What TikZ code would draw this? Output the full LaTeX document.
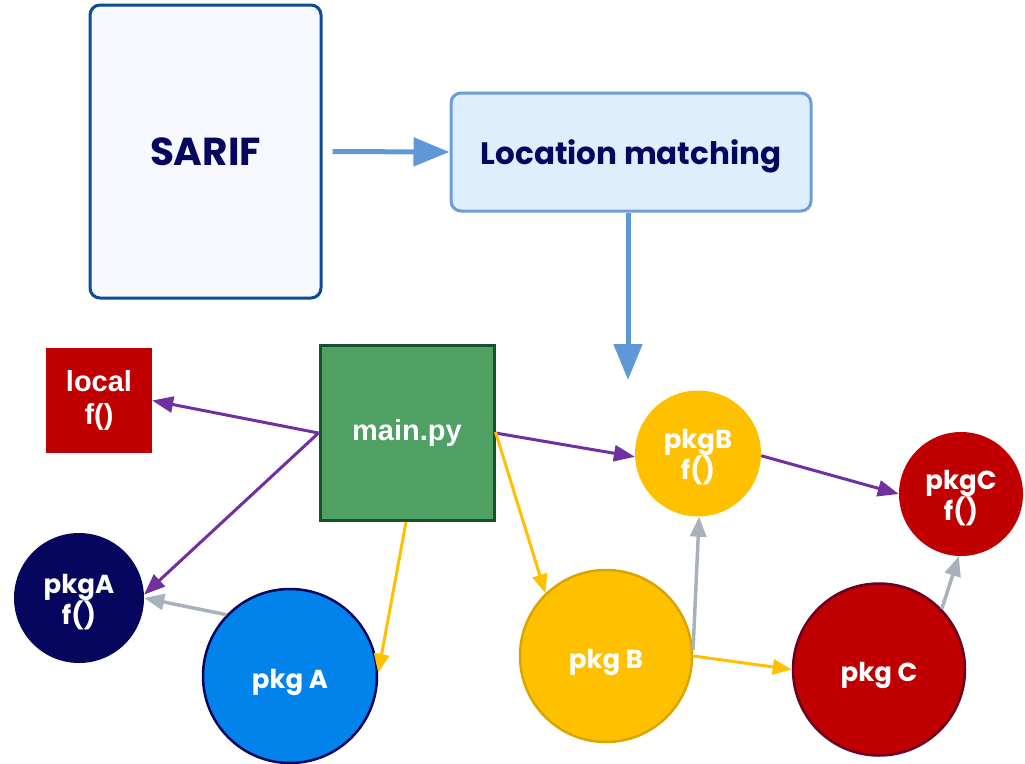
\documentclass[tikz,border=0pt]{standalone}
\usepackage{fontspec}
\usetikzlibrary{arrows.meta}
\newfontfamily\geo{Poppins}
\newfontfamily\ari{Liberation Sans}
\definecolor{navy}{HTML}{06065E}
\definecolor{sarifedge}{HTML}{0D4C94}
\definecolor{sariffill}{HTML}{F8F9FE}
\definecolor{locfill}{HTML}{DDEEFD}
\definecolor{locedge}{HTML}{6C9FD8}
\definecolor{flowblue}{HTML}{5F98D6}
\definecolor{callpurple}{HTML}{7030A0}
\definecolor{depyellow}{HTML}{FFC000}
\definecolor{depyedge}{HTML}{D9A600}
\definecolor{ownsgray}{HTML}{A8B1BC}
\definecolor{mainfill}{HTML}{4EA162}
\definecolor{mainedge}{HTML}{17502A}
\definecolor{redfill}{HTML}{C00000}
\definecolor{rededge}{HTML}{6B0020}
\definecolor{pkgablue}{HTML}{0283EB}
\tikzset{
  stage/.style={draw, rounded corners=10pt, line width=3pt, text=navy,
    text depth=0pt},
  ball/.style={circle, inner sep=0pt},
  balltext/.style={inner sep=0pt, text=white, align=center,
    font=\geo\bfseries\fontsize{26}{31}\selectfont},
  fname/.style={label={[balltext, yshift=-4pt]center:{#1\\f()}}},
  pname/.style={label={[balltext, yshift=-6pt]center:{#1}}},
  plain/.style={inner sep=0pt, text=white, align=center,
    font=\ari\bfseries\fontsize{29}{33}\selectfont},
  flow/.style={draw=flowblue, line width=5pt,
    -{Triangle[length=36pt,width=28pt]}},
  call/.style={draw=callpurple, line width=3pt,
    -{Triangle[length=21pt,width=16pt]}},
  dep/.style={draw=depyellow, line width=3pt,
    -{Triangle[length=19pt,width=15pt]}},
  owns/.style={draw=ownsgray, line width=3.5pt,
    -{Triangle[length=20pt,width=16pt]}},
}
\begin{document}
\begin{tikzpicture}[x=1pt,y=-1pt]
\useasboundingbox (0,0) rectangle (1025,763);

% pipeline boxes
\node[stage, draw=sarifedge, fill=sariffill, minimum width=231pt, minimum height=293pt,
  font=\geo\bfseries\fontsize{39}{44}\selectfont]
  (sarif) at (205.5,151.5) {SARIF};
\node[stage, draw=locedge, fill=locfill, minimum width=360pt, minimum height=118pt,
  font=\geo\bfseries\fontsize{31}{36}\selectfont]
  (loc) at (631,152) {Location matching};
\coordinate (drop) at (628,380);

% code entities
\node[plain, fill=redfill, minimum width=106pt, minimum height=105pt]
  (localf) at (99,400.5) {local\\f()};
\node[plain, draw=mainedge, line width=3pt, fill=mainfill,
  minimum width=174pt, minimum height=175pt] (main) at (407,433) {main.py};
\node[ball, fill=depyellow, minimum size=126pt, fname=pkgB] (pkgBf) at (698,453.5) {};
\node[ball, fill=redfill, minimum size=124pt, fname=pkgC] (pkgCf) at (961,494) {};
\node[ball, fill=navy, minimum size=130pt, fname=pkgA] (pkgAf) at (79,598) {};
\node[ball, draw=depyedge, line width=2.5pt, fill=depyellow, minimum size=172pt,
  pname={pkg B}] (pkgB) at (606,656) {};
\node[ball, draw=rededge, line width=2.5pt, fill=redfill, minimum size=172pt,
  pname={pkg C}] (pkgC) at (879,669.5) {};
\node[ball, draw=navy, line width=2.5pt, fill=pkgablue, minimum size=174pt,
  pname={pkg A}] (pkgA) at (290,676) {};

% pipeline flow
\draw[flow, shorten <=10pt] (sarif.east) -- (loc.west);
\draw[flow] (loc.south -| drop) -- (drop);

% calls
\draw[call] (main.west) -- (localf.east);
\draw[call] (main.west) -- (pkgAf.3);
\draw[call] (main.east) -- (pkgBf.183);
\draw[call] (pkgBf.358) -- (pkgCf.180);

% dependencies
\draw[dep] ([xshift=-1pt]main.south) -- (pkgA.2);
\draw[dep] ([yshift=1pt]main.east) -- (pkgB.134);
\draw[dep] (pkgB.0) -- (pkgC.180);

% package owns function
\draw[owns] (pkgA.136) -- (pkgAf.0);
\draw[owns] (pkgB.4) -- (pkgBf.271);
\draw[owns] (pkgC.44) -- (pkgCf.268);
\end{tikzpicture}
\end{document}
